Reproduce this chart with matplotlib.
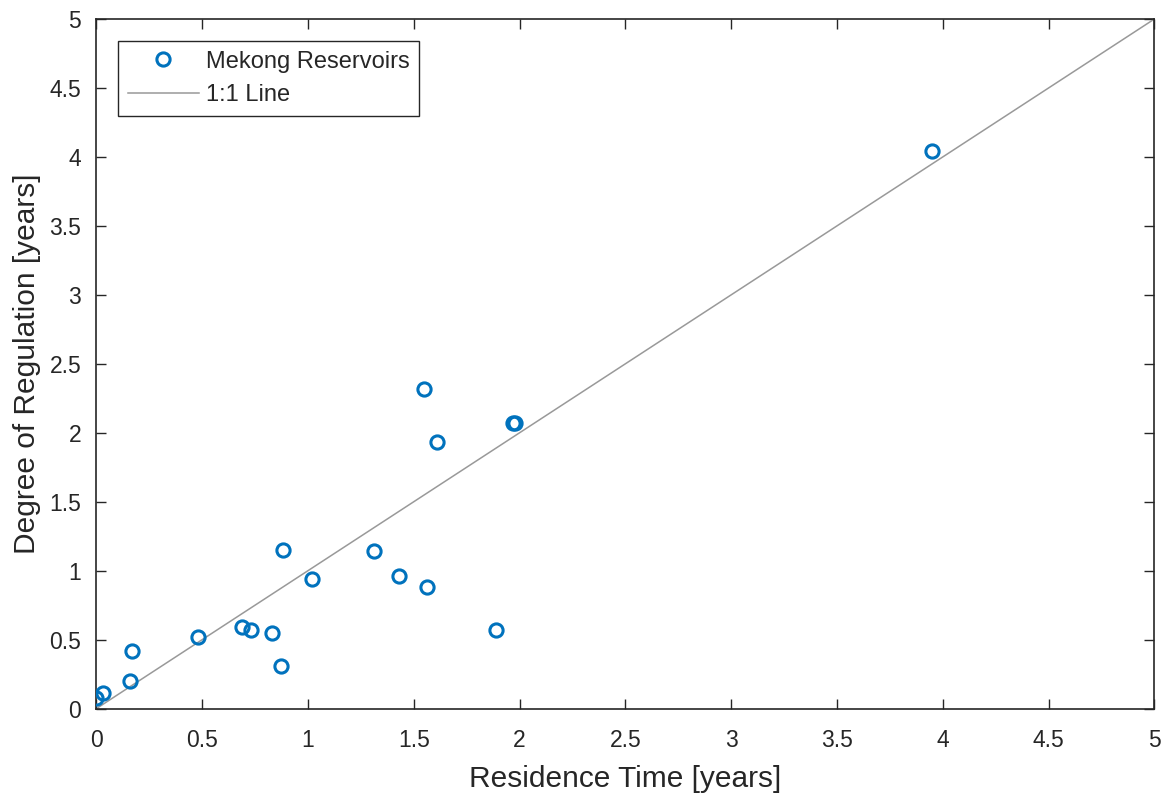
import numpy as np
import matplotlib
matplotlib.use("Agg")
from matplotlib import pyplot as plt

# residence time vs degree of regulation
residence_time = [0.00, 0.03, 0.16, 0.17, 0.48, 0.69, 0.73, 0.83, 0.87, 0.88,
                  1.02, 1.31, 1.43, 1.56, 1.89, 1.55, 1.61, 1.97, 1.98, 3.95]
regulation = [0.08, 0.11, 0.20, 0.42, 0.52, 0.59, 0.57, 0.55, 0.31, 1.15,
              0.94, 1.14, 0.96, 0.88, 0.57, 2.32, 1.93, 2.07, 2.07, 4.04]
line_x = [0, 5]
line_y = [0, 5]
ticks = [0, 0.5, 1, 1.5, 2, 2.5, 3, 3.5, 4, 4.5, 5]
tick_labels = ["0", "0.5", "1", "1.5", "2", "2.5", "3", "3.5", "4", "4.5", "5"]

plt.rcParams['font.family'] = ['Liberation Sans', 'DejaVu Sans']
dark = '#262626'

fig = plt.figure(figsize=(11.68, 7.97), dpi=100)
ax = fig.add_axes([0.0826, 0.111, 0.9057, 0.8651])

ax.plot(residence_time, regulation, 'o', mfc='none', mec='#0072BD',
        ms=9.5, mew=2.2, label='Mekong Reservoirs', zorder=3)
ax.plot(line_x, line_y, '-', color='#999999', lw=1.1, label='1:1 Line', zorder=2)

ax.set_xlim(0, 5)
ax.set_ylim(0, 5)
ax.set_xticks(ticks)
ax.set_xticklabels(tick_labels)
ax.set_yticks(ticks)
ax.set_yticklabels(tick_labels)
ax.tick_params(direction='in', length=7, width=1, colors=dark, labelsize=16.5,
               top=True, right=True)
ax.tick_params(axis='x', pad=15)
ax.tick_params(axis='y', pad=11)
for s in ax.spines.values():
    s.set_color(dark)
    s.set_linewidth(1.2)

ax.set_xlabel('Residence Time [years]', fontsize=21.5, color=dark, labelpad=9)
ax.set_ylabel('Degree of Regulation [years]', fontsize=21.5, color=dark, labelpad=6)

leg = ax.legend(loc='upper left', bbox_to_anchor=(0.0206, 0.968), fontsize=17,
                frameon=True, fancybox=False, framealpha=1, edgecolor=dark,
                handlelength=3.0, handletextpad=0.3, borderpad=0.4,
                labelspacing=0.5, borderaxespad=0)
leg.get_frame().set_linewidth(1)
for t in leg.get_texts():
    t.set_color(dark)

fig.savefig('out.png', dpi=100)
